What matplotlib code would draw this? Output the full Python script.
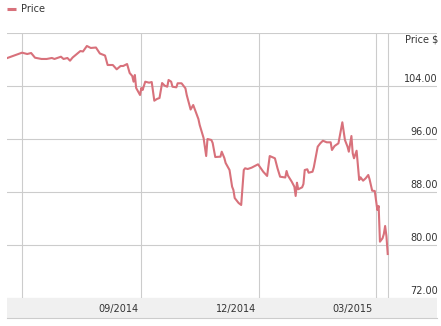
import numpy as np
import matplotlib
matplotlib.use('Agg')
import matplotlib.pyplot as plt
import matplotlib.dates as mdates
import matplotlib.transforms as mtransforms
from matplotlib.lines import Line2D

# price series
dates = ['2014-05-20', '2014-06-01', '2014-06-05', '2014-06-08', '2014-06-11', '2014-06-16', '2014-06-20', '2014-06-24', '2014-06-26', '2014-07-01',
         '2014-07-03', '2014-07-06', '2014-07-08', '2014-07-10', '2014-07-16', '2014-07-18', '2014-07-21', '2014-07-24', '2014-07-28', '2014-07-31',
         '2014-08-04', '2014-08-06', '2014-08-10', '2014-08-13', '2014-08-16', '2014-08-18', '2014-08-21', '2014-08-23', '2014-08-25', '2014-08-26',
         '2014-08-27', '2014-08-28', '2014-08-31', '2014-09-01', '2014-09-02', '2014-09-04', '2014-09-07', '2014-09-09', '2014-09-11', '2014-09-13',
         '2014-09-15', '2014-09-17', '2014-09-19', '2014-09-21', '2014-09-22', '2014-09-24', '2014-09-25', '2014-09-28', '2014-09-29', '2014-10-02',
         '2014-10-05', '2014-10-06', '2014-10-09', '2014-10-11', '2014-10-13', '2014-10-15', '2014-10-16', '2014-10-19', '2014-10-21', '2014-10-22',
         '2014-10-25', '2014-10-26', '2014-10-28', '2014-11-01', '2014-11-02', '2014-11-04', '2014-11-05', '2014-11-08', '2014-11-10', '2014-11-11',
         '2014-11-12', '2014-11-15', '2014-11-17', '2014-11-19', '2014-11-20', '2014-11-22', '2014-11-25', '2014-11-30', '2014-12-04', '2014-12-07',
         '2014-12-09', '2014-12-13', '2014-12-15', '2014-12-17', '2014-12-21', '2014-12-22', '2014-12-23', '2014-12-26', '2014-12-28', '2014-12-29',
         '2014-12-30', '2014-12-31', '2015-01-03', '2015-01-04', '2015-01-05', '2015-01-07', '2015-01-08', '2015-01-11', '2015-01-12', '2015-01-15',
         '2015-01-17', '2015-01-19', '2015-01-22', '2015-01-25', '2015-01-26', '2015-01-28', '2015-01-31', '2015-02-03', '2015-02-05', '2015-02-07',
         '2015-02-08', '2015-02-10', '2015-02-11', '2015-02-12', '2015-02-14', '2015-02-16', '2015-02-17', '2015-02-19', '2015-02-21', '2015-02-23',
         '2015-02-24', '2015-02-26', '2015-02-28', '2015-03-02', '2015-03-03', '2015-03-04', '2015-03-06', '2015-03-07', '2015-03-08', '2015-03-09',
         '2015-03-10']
prices = [108.18, 109.03, 108.83, 108.98, 108.27, 108.08, 108.08, 108.23, 108.08, 108.42,
          108.08, 108.23, 107.82, 108.30, 109.28, 109.21, 110.04, 109.74, 109.81, 108.91,
          108.60, 107.17, 107.17, 106.52, 107.02, 107.02, 107.32, 105.96, 105.51, 104.65,
          105.66, 103.70, 102.64, 103.70, 103.40, 104.65, 104.50, 104.60, 101.78, 102.04,
          102.19, 104.45, 104.05, 103.89, 104.91, 104.65, 103.89, 103.80, 104.41, 104.41,
          103.65, 102.64, 100.45, 101.13, 100.08, 99.02, 98.11, 96.15, 93.43, 96.00,
          95.85, 95.40, 93.28, 93.33, 94.08, 93.13, 92.38, 91.32, 88.80, 88.30,
          87.09, 86.34, 86.04, 91.32, 91.58, 91.47, 91.67, 92.18, 91.06, 90.42,
          93.43, 93.09, 91.58, 90.31, 90.19, 91.17, 90.49, 89.55, 88.80, 87.40,
          89.40, 88.41, 88.71, 89.21, 91.32, 91.43, 90.91, 91.06, 91.73, 94.84,
          95.35, 95.74, 95.50, 95.50, 94.34, 94.94, 95.35, 98.52, 95.85, 94.84,
          94.08, 96.45, 93.84, 93.09, 94.23, 89.81, 90.22, 89.71, 90.07, 90.57,
          89.92, 88.20, 88.15, 85.28, 85.89, 80.50, 81.01, 81.66, 82.87, 81.36,
          78.64]

month_lines = ['2014-06-01', '2014-09-01', '2014-12-01', '2015-03-01']
month_labels = ['', '09/2014', '12/2014', '03/2015']
y_ticks = [72, 80, 88, 96, 104, 112]
y_labels = ['72.00', '80.00', '88.00', '96.00', '104.00', '']

line_col = '#d8717b'
grid_col = '#cccccc'
text_col = '#333333'

W, H = 441, 326
fig = plt.figure(figsize=(W / 100, H / 100), dpi=100)
ax = fig.add_axes([7 / W, 1 - 298 / H, 430 / W, 265 / H])

x = mdates.datestr2num(dates)
jun1 = mdates.datestr2num('2014-06-01')
ax.set_xlim(jun1 - 11.6, jun1 + 320.0)
ax.set_ylim(72, 112)
for s in ax.spines.values():
    s.set_visible(False)
ax.set_xticks([])
ax.set_yticks([])

for v in y_ticks:
    ax.axhline(v, color=grid_col, lw=0.8, zorder=1)
for d in month_lines:
    ax.axvline(mdates.datestr2num(d), color=grid_col, lw=0.8, zorder=1)
ax.axvline(x[-1], color=grid_col, lw=0.8, zorder=1)

ax.plot(x, prices, color=line_col, lw=1.5, zorder=3, solid_joinstyle='round')

# y labels sit just above their grid lines, right side
ytr = mtransforms.offset_copy(mtransforms.blended_transform_factory(ax.transAxes, ax.transData),
                              fig=fig, x=1, y=4, units='dots')
for v, lab in zip(y_ticks, y_labels):
    ax.text(1.0, v, lab, transform=ytr, ha='right', va='baseline', fontsize=7, color=text_col)
ptr = mtransforms.offset_copy(mtransforms.blended_transform_factory(ax.transAxes, ax.transData),
                              fig=fig, x=1, y=-10, units='dots')
ax.text(1.0, 112, 'Price $', transform=ptr, ha='right', va='baseline', fontsize=7, color=text_col)

# x axis band
bx = fig.add_axes([7 / W, 1 - 318 / H, 430 / W, 20 / H], facecolor='#f0f0f0')
bx.set_xlim(ax.get_xlim())
bx.set_ylim(0, 1)
bx.set_xticks([])
bx.set_yticks([])
for k, s in bx.spines.items():
    s.set_visible(k == 'bottom')
bx.spines['bottom'].set_color(grid_col)
bx.spines['bottom'].set_linewidth(0.8)
xtr = mtransforms.offset_copy(bx.transData, fig=fig, x=-3, y=0, units='dots')
for d, lab in zip(month_lines, month_labels):
    bx.text(mdates.datestr2num(d), 0.45, lab, transform=xtr, ha='right', va='center',
            fontsize=7, color=text_col)

# legend
fig.add_artist(Line2D([7 / W, 16 / W], [1 - 9 / H, 1 - 9 / H], color=line_col, lw=2.2,
                      solid_capstyle='butt'))
fig.text(21 / W, 1 - 9 / H, 'Price', ha='left', va='center', fontsize=7, color=text_col)

fig.savefig('out.png', dpi=100)
